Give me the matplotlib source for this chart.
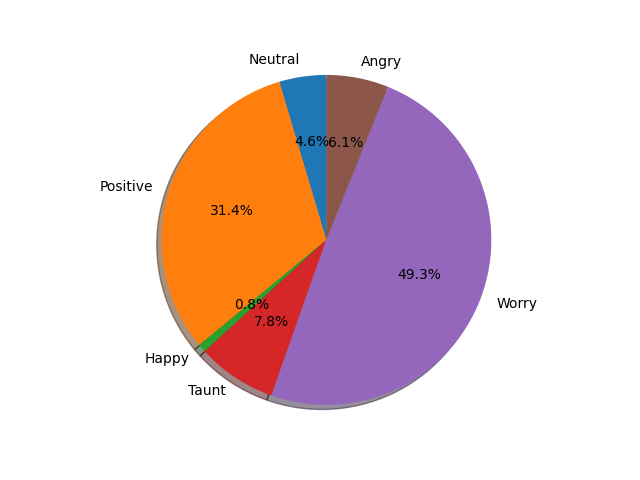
import matplotlib
matplotlib.use("Agg")
import matplotlib.pyplot as plt

labels = ["Neutral", "Positive", "Happy", "Taunt", "Worry", "Angry"]
shares = [4.6, 31.4, 0.8, 7.8, 49.3, 6.1]

fig, ax = plt.subplots(figsize=(6.4, 4.8), dpi=100)
ax.pie(shares, labels=labels, autopct="%1.1f%%", shadow=True, startangle=90)
ax.set_xlim(-1.11, 1.13)
ax.set_ylim(-1.135, 1.105)
ax.set_aspect("equal")

plt.savefig("out.png", dpi=100)
